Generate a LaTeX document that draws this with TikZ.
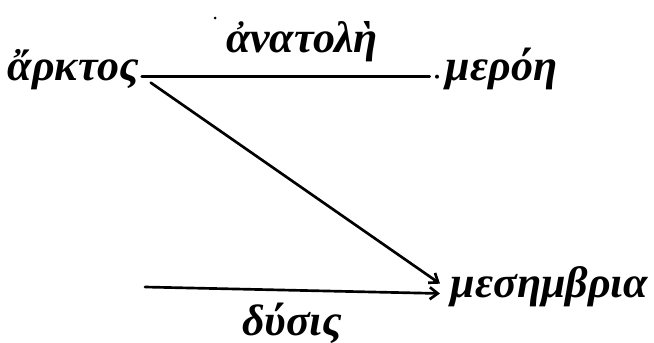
\documentclass[tikz,border=0pt]{standalone}
\usepackage{fontspec}
\setmainfont{Liberation Serif}
\usetikzlibrary{arrows.meta}
\begin{document}
\begin{tikzpicture}[x=0.75pt,y=-0.75pt,
    word/.style={font=\fontsize{33}{38}\selectfont\bfseries\itshape,inner sep=2pt,text height=0.75em,text depth=0.25em},
    ray/.style={line width=2pt,line cap=round},
    arr/.style={ray,-{Straight Barb[length=6pt,width=9pt,line width=2pt]}}]
  \useasboundingbox (0,0) rectangle (654,343);
  \node[word,anchor=base west] (arktos) at (5,80) {ἄρκτος};
  \node[word,anchor=base west] (meroe) at (443,80) {μερόη};
  \node[word,anchor=base] (anatole) at (302,52) {ἀνατολὴ};
  \node[word,anchor=base west] (mesembria) at (448,297) {μεσημβρια};
  \node[word,anchor=base] (dysis) at (292,335) {δύσις};
  \coordinate (dusk) at (145,287);
  \draw[ray,shorten >=10pt] (arktos.east) -- (meroe.west);
  \fill ([shift={(-6,0)}]meroe.west) circle (2);
  \draw[arr] ([shift={(9,6)}]arktos.east) -- ([shift={(-8,-10)}]mesembria.west);
  \draw[arr,shorten >=6pt] (dusk) -- (mesembria.west);
  \fill (215,18) circle (1.5);
\end{tikzpicture}
\end{document}
